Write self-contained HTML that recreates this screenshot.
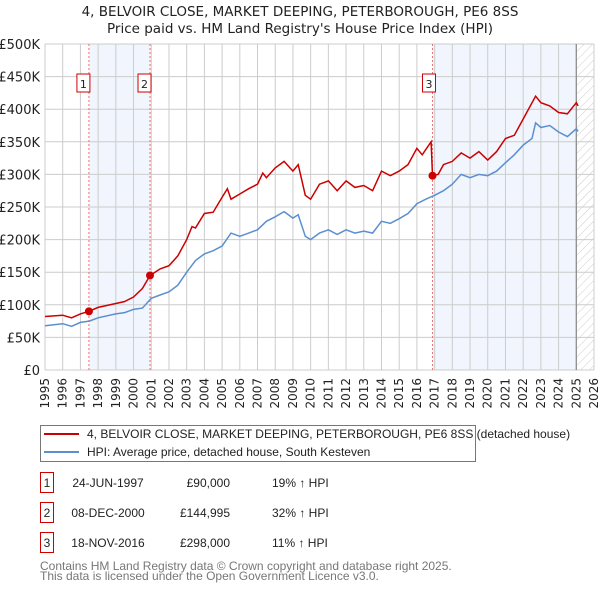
<!DOCTYPE html>
<html><head><meta charset="utf-8"><style>
body{margin:0;background:#fff;font-family:"Liberation Sans","DejaVu Sans",sans-serif;}
svg text{font-family:"DejaVu Sans","Liberation Sans",sans-serif;}
svg text.lib{font-family:"Liberation Sans","DejaVu Sans",sans-serif;}
</style></head><body>
<svg id="chart" width="600" height="590" xmlns="http://www.w3.org/2000/svg">
<defs><pattern id="hatch" width="6" height="6" patternUnits="userSpaceOnUse" patternTransform="rotate(45)"><line x1="0" y1="0" x2="0" y2="6" stroke="#ccc" stroke-width="1"/></pattern></defs>
<text x="300" y="16" text-anchor="middle" font-size="13.5" fill="#222">4, BELVOIR CLOSE, MARKET DEEPING, PETERBOROUGH, PE6 8SS</text>
<text x="300" y="33" text-anchor="middle" font-size="13.5" fill="#222">Price paid vs. HM Land Registry's House Price Index (HPI)</text>
<g id="plot"></g>
<g>
<rect x="40.5" y="425.5" width="435" height="36" fill="#fff" stroke="#777"/>
<line x1="44" y1="434" x2="79" y2="434" stroke="#cc0000" stroke-width="2"/>
<text class="lib" x="87" y="438" font-size="12" fill="#222">4, BELVOIR CLOSE, MARKET DEEPING, PETERBOROUGH, PE6 8SS (detached house)</text>
<line x1="44" y1="452" x2="79" y2="452" stroke="#5b8fd0" stroke-width="2"/>
<text class="lib" x="87" y="456" font-size="12" fill="#222">HPI: Average price, detached house, South Kesteven</text>
</g>
<g id="table"></g>
<text class="lib" x="40" y="570" font-size="12" fill="#777">Contains HM Land Registry data © Crown copyright and database right 2025.</text>
<text class="lib" x="40" y="580" font-size="12" fill="#777">This data is licensed under the Open Government Licence v3.0.</text>
</svg>
<script>
const hpiYears=[1995,1996,1996.5,1997,1997.5,1998,1999,1999.5,2000,2000.5,2001,2001.5,2002,2002.5,2003,2003.5,2004,2004.5,2005,2005.5,2006,2006.5,2007,2007.5,2008,2008.5,2009,2009.3,2009.7,2010,2010.5,2011,2011.5,2012,2012.5,2013,2013.5,2014,2014.5,2015,2015.5,2016,2016.5,2017,2017.5,2018,2018.5,2019,2019.5,2020,2020.5,2021,2021.5,2022,2022.5,2022.7,2023,2023.5,2024,2024.5,2025,2025.1];
const hpiValues=[68,71,67,73,75,80,86,88,93,95,110,115,120,130,150,168,178,183,190,210,205,210,215,228,235,243,233,238,205,200,210,215,208,215,210,213,210,228,225,232,240,255,262,268,275,285,300,295,300,298,305,318,330,345,355,379,372,375,365,358,370,366];
const priceYears=[1995,1996,1996.5,1997,1997.48,1998,1999,1999.5,2000,2000.5,2000.93,2001.5,2002,2002.5,2003,2003.3,2003.5,2004,2004.5,2005,2005.3,2005.5,2006,2006.5,2007,2007.3,2007.5,2008,2008.5,2009,2009.3,2009.7,2010,2010.5,2011,2011.5,2012,2012.5,2013,2013.5,2014,2014.5,2015,2015.5,2016,2016.3,2016.8,2016.88,2017.2,2017.5,2018,2018.5,2019,2019.5,2020,2020.5,2021,2021.5,2022,2022.7,2023,2023.5,2024,2024.5,2025,2025.1];
const priceValues=[82,84,80,86,90,96,102,105,112,125,145,155,160,175,200,220,218,240,242,265,278,262,270,278,285,302,295,310,320,305,315,268,262,285,290,275,290,280,283,275,305,298,305,315,340,330,350,298,300,315,320,333,325,335,322,335,355,360,385,420,410,405,395,393,410,405];
const saleLabels=["1","2","3"];
const saleYears=[1997.48,2000.93,2016.88];
const salePrices=[90000,144995,298000];
const saleDates=["24-JUN-1997","08-DEC-2000","18-NOV-2016"];
const salePriceText=["£90,000","£144,995","£298,000"];
const saleHpiText=["19% ↑ HPI","32% ↑ HPI","11% ↑ HPI"];
const yTicks=[0,50,100,150,200,250,300,350,400,450,500];
const yTickLabels=["£0","£50K","£100K","£150K","£200K","£250K","£300K","£350K","£400K","£450K","£500K"];
const xTicks=[1995,1996,1997,1998,1999,2000,2001,2002,2003,2004,2005,2006,2007,2008,2009,2010,2011,2012,2013,2014,2015,2016,2017,2018,2019,2020,2021,2022,2023,2024,2025,2026];
const dataEnd=2025.0;

const L=45,R=594,T=44,B=370;
const x=y=>L+(y-1995)/(2026-1995)*(R-L);
const yv=v=>B-v/500*(B-T);
const NS="http://www.w3.org/2000/svg";
const plot=document.getElementById('plot');
function mk(tag,attrs,parent){const e=document.createElementNS(NS,tag);for(const k in attrs)e.setAttribute(k,attrs[k]);(parent||plot).appendChild(e);return e;}

let e=mk('rect',{x:x(saleYears[0]),y:T,width:x(saleYears[1])-x(saleYears[0]),height:B-T,fill:'#eef3fc',opacity:0.8});


e=mk('rect',{x:x(saleYears[2]),y:T,width:x(dataEnd)-x(saleYears[2]),height:B-T,fill:'#eef3fc',opacity:0.8});


e=mk('rect',{x:x(dataEnd),y:T,width:R-x(dataEnd),height:B-T,fill:'url(#hatch)'});



xTicks.forEach(t=>{
  const g=mk('line',{x1:x(t),x2:x(t),y1:T,y2:B,stroke:'#ccc','stroke-width':1});
  
  
  const tx=mk('text',{x:0,y:0,'font-size':12,fill:'#222','text-anchor':'end',transform:`translate(${x(t)+4},${B+8}) rotate(-90)`});
  tx.textContent=t;
  
  
});
yTicks.forEach((t,i)=>{
  const g=mk('line',{x1:L,x2:R,y1:yv(t),y2:yv(t),stroke:'#ccc','stroke-width':1});
  
  
  const tx=mk('text',{x:L-5,y:yv(t)+5,'font-size':13,fill:'#222','text-anchor':'end'});
  tx.textContent=yTickLabels[i];
  
  
});
e=mk('line',{x1:x(dataEnd),x2:x(dataEnd),y1:T,y2:B,stroke:'#888','stroke-width':1.2});



saleYears.forEach((s,i)=>{
  const l=mk('line',{x1:x(s),x2:x(s),y1:T,y2:B,stroke:'#f07070','stroke-width':1,'stroke-dasharray':'2,2'});
  
  
  const bx=x(s)-(i==2?10:12);
  const r=mk('rect',{x:bx,y:T+30,width:13,height:18,fill:'#fff',stroke:'#cc0000'});
  
  
  const t=mk('text',{x:bx+6.5,y:T+44,'font-size':11,'text-anchor':'middle',fill:'#222'});
  t.textContent=saleLabels[i];
  
  
});

let d=hpiYears.map((t,i)=>(i?'L':'M')+x(t).toFixed(1)+','+yv(hpiValues[i]).toFixed(1)).join('');
e=mk('path',{d:d,fill:'none',stroke:'#5b8fd0','stroke-width':1.5});


d=priceYears.map((t,i)=>(i?'L':'M')+x(t).toFixed(1)+','+yv(priceValues[i]).toFixed(1)).join('');
e=mk('path',{d:d,fill:'none',stroke:'#cc0000','stroke-width':1.5});


saleYears.forEach((s,i)=>{
  const c=mk('circle',{cx:x(s),cy:yv(salePrices[i]/1000),r:4,fill:'#cc0000'});
  
  
});

const tbl=document.getElementById('table');
saleLabels.forEach((lab,i)=>{
  const cy=483+i*30;
  const r=mk('rect',{x:40.5,y:cy-10.5,width:13,height:20,fill:'#fff',stroke:'#cc0000'},tbl);
  
  
  const cells=[[lab,47,'middle'],[saleDates[i],108,'middle'],[salePriceText[i],230,'end'],[saleHpiText[i],272,'start']];
  cells.forEach(c=>{
    const t=mk('text',{x:c[1],y:cy+4,'font-size':12,fill:'#222','text-anchor':c[2],'class':'lib'},tbl);
    t.textContent=c[0];
    
    
  });
});
</script>
</body></html>
